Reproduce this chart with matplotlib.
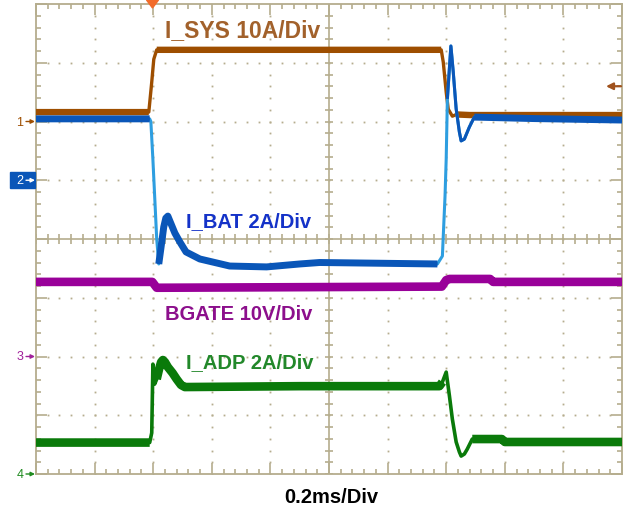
import numpy as np
import matplotlib
matplotlib.use("Agg")
import matplotlib.pyplot as plt
from matplotlib.patches import Polygon, Rectangle

plt.rcParams['font.family'] = ['Liberation Sans', 'DejaVu Sans']

# time in ms (0 = trigger), 0.2 ms/div, screen spans -0.4 .. 1.6 ms
t_sys = [-0.4, -0.015, -0.005, 0.002, 0.012, 0.5, 0.983, 0.990, 1.0, 1.007, 1.021, 1.035, 1.08, 1.6]
i_sys = [1.6, 1.6, 6.7, 10.6, 12.2, 12.2, 12.2, 10.1, 5.0, 2.1, 0.9, 1.2, 1.1, 1.1]

t_bat = [-0.4, -0.012, -0.008, -0.001, 0.012, 0.019, 0.026, 0.036, 0.043, 0.050, 0.057,
         0.074, 0.091, 0.112, 0.159, 0.261, 0.387, 0.5, 0.568, 0.97, 0.987, 0.996, 1.0,
         1.004, 1.016, 1.024, 1.034, 1.045, 1.051, 1.062, 1.079, 1.096, 1.3, 1.6]
i_bat = [2.09, 2.09, 2.0, 0.7, -2.0, -2.85, -2.34, -1.59, -1.29, -1.22, -1.39,
         -1.80, -2.10, -2.44, -2.68, -2.92, -2.95, -2.85, -2.80, -2.85, -2.58, -0.54, 0.72,
         2.77, 4.57, 3.69, 2.43, 1.64, 1.34, 1.40, 1.81, 2.15, 2.1, 2.05]

t_gate = [-0.4, -0.003, 0.012, 0.5, 0.985, 1.0, 1.011, 1.15, 1.16, 1.6]
v_gate = [12.7, 12.7, 11.7, 11.8, 11.9, 13.0, 13.2, 13.2, 12.7, 12.7]

t_adp = [-0.4, -0.012, -0.005, -0.001, 0.005, 0.012, 0.020, 0.027, 0.033, 0.040, 0.050,
         0.066, 0.080, 0.095, 0.108, 0.5, 0.977, 0.987, 1.0, 1.011, 1.021, 1.034, 1.045,
         1.051, 1.062, 1.072, 1.089, 1.19, 1.2, 1.6]
i_adp = [1.07, 1.07, 1.4, 3.74, 3.06, 3.23, 3.57, 3.81, 3.88, 3.81, 3.64,
         3.44, 3.23, 3.03, 2.96, 2.99, 2.99, 3.13, 3.47, 2.66, 1.87, 1.09, 0.75,
         0.61, 0.68, 0.85, 1.19, 1.19, 1.09, 1.09]

# channel setup: units per div, ground offset in div
ch_scale = [10, 2, 10, 2]
ch_offset = [2, 1, -2, -4]
trig_level = 6.0  # A on ch1

def to_div(vals, ch):
    return np.array(vals) / ch_scale[ch] + ch_offset[ch]

def trace(ax, t, v, ch, thin_c, thick_c, thin, thick, fast=()):
    # thin line for the whole trace, thick noise band only on settled parts
    t = np.array(t)
    y = to_div(v, ch)
    if thin:
        ax.plot(t, y, color=thin_c, lw=thin, zorder=3 + ch * 0.1)
    yb = y.copy()
    for lo, hi in fast:
        yb[(t > lo) & (t < hi)] = np.nan
    ax.plot(t, yb, color=thick_c, lw=thick, zorder=3 + ch * 0.1, solid_capstyle='butt')

W, H = 623, 510
fig = plt.figure(figsize=(W / 100, H / 100), dpi=100)
ax = fig.add_axes([36 / W, 35 / H, 586 / W, 470 / H])
ax.set_xlim(-0.4, 1.6)
ax.set_ylim(-4, 4)

grid_c = '#B5AD8E'
for s in ax.spines.values():
    s.set_color(grid_c)
    s.set_linewidth(1.3)

ax.set_xticks(np.arange(-0.4, 1.61, 0.2))
ax.set_xticks(np.arange(-0.4, 1.61, 0.04), minor=True)
ax.set_yticks(np.arange(-4, 4.1, 1))
ax.set_yticks(np.arange(-4, 4.01, 0.2), minor=True)
ax.tick_params(which='both', direction='in', top=True, right=True, color=grid_c,
               labelbottom=False, labelleft=False, width=1.2)
ax.tick_params(which='major', length=8)
ax.tick_params(which='minor', length=3.5)

# dotted graticule
xmaj = [x for x in np.arange(-0.2, 1.5, 0.2) if abs(x - 0.6) > 1e-6]
ymaj = [y for y in range(-3, 4) if y != 0]
xmin = np.arange(-0.4, 1.6, 0.04)
ymin = np.arange(-4, 4, 0.2)
gx, gy = np.meshgrid(xmaj, ymin)
ax.plot(gx.ravel(), gy.ravel(), 's', ms=1.3, color=grid_c, mew=0, zorder=1)
gx, gy = np.meshgrid(xmin, ymaj)
ax.plot(gx.ravel(), gy.ravel(), 's', ms=1.3, color=grid_c, mew=0, zorder=1)

# centre cross with ticks
ax.axhline(0, color=grid_c, lw=1.2, zorder=1)
ax.axvline(0.6, color=grid_c, lw=1.2, zorder=1)
ax.vlines(xmin, -0.08, 0.08, color=grid_c, lw=1.2, zorder=1)
ax.hlines(ymin, 0.6 - 0.014, 0.6 + 0.014, color=grid_c, lw=1.2, zorder=1)

# traces
trace(ax, t_sys, i_sys, 0, '#9E4E00', '#9E4E00', 2.4, 4.6,
      fast=[(-0.015, 0.012), (0.983, 1.035)])
trace(ax, t_bat, i_bat, 1, '#2E9EE0', '#0A56B8', 2.2, 5.0,
      fast=[(-0.012, 0.019), (0.97, 1.096)])
trace(ax, t_bat, i_bat, 1, '#0A56B8', '#0A56B8', 0, 2.2,
      fast=[(-0.012, 0.019), (0.97, 1.004)])
trace(ax, t_gate, v_gate, 2, '#990099', '#990099', 0, 6.2)
trace(ax, t_adp, i_adp, 3, '#0A7A0A', '#0A7A0A', 2.6, 6.2,
      fast=[(-0.012, 0.012), (0.987, 1.089)])

# labels
def px(x, y):
    return x / W, 1 - y / H

fig.text(*px(165, 37), 'I_SYS 10A/Div', color='#A2612B', fontsize=16.5,
         fontweight='bold', va='baseline')
fig.text(*px(186, 227), 'I_BAT 2A/Div', color='#1432C8', fontsize=14.5,
         fontweight='bold', va='baseline')
fig.text(*px(165, 320), 'BGATE 10V/Div', color='#8C0F8C', fontsize=14.5,
         fontweight='bold', va='baseline')
fig.text(*px(186, 368), 'I_ADP 2A/Div', color='#22882A', fontsize=14.5,
         fontweight='bold', va='baseline')
fig.text(*px(331, 503), '0.2ms/Div', color='black', fontsize=14.5,
         fontweight='bold', va='baseline', ha='center')

# channel ground markers
ch_cols = ['#9E4E00', '#0A56B8', '#A0209A', '#1E8A1E']
for k in range(4):
    yy = 240 - ch_offset[k] * 58.75
    tc = 'white' if k == 1 else ch_cols[k]
    if k == 1:
        ax.add_patch(Rectangle(px(10, yy + 8), 25 / W, 16 / H, color=ch_cols[k],
                               transform=fig.transFigure, clip_on=False, zorder=6))
    ax.text(*px(20, yy), str(k + 1), color=tc, fontsize=9, ha='center', va='center',
            transform=fig.transFigure, zorder=7)
    ax.annotate('', xy=px(35, yy), xytext=px(26, yy), xycoords='figure fraction',
                arrowprops=dict(arrowstyle='-|>', color=tc, lw=1, mutation_scale=6,
                                shrinkA=0, shrinkB=0),
                annotation_clip=False, zorder=7)

# trigger level arrow on right
yt = 240 - (trig_level / ch_scale[0] + ch_offset[0]) * 58.75
ax.annotate('', xy=px(606, yt), xytext=px(621, yt), xycoords='figure fraction',
            arrowprops=dict(arrowstyle='-|>', color='#A0521D', lw=1.6, mutation_scale=10,
                            shrinkA=0, shrinkB=0))

# trigger position marker
fig.patches.append(Polygon([px(146.5, 1), px(158.5, 1), px(152.5, 9)], closed=True,
                           color='#F26B2A', transform=fig.transFigure, figure=fig))

fig.savefig('out.png', dpi=100)
